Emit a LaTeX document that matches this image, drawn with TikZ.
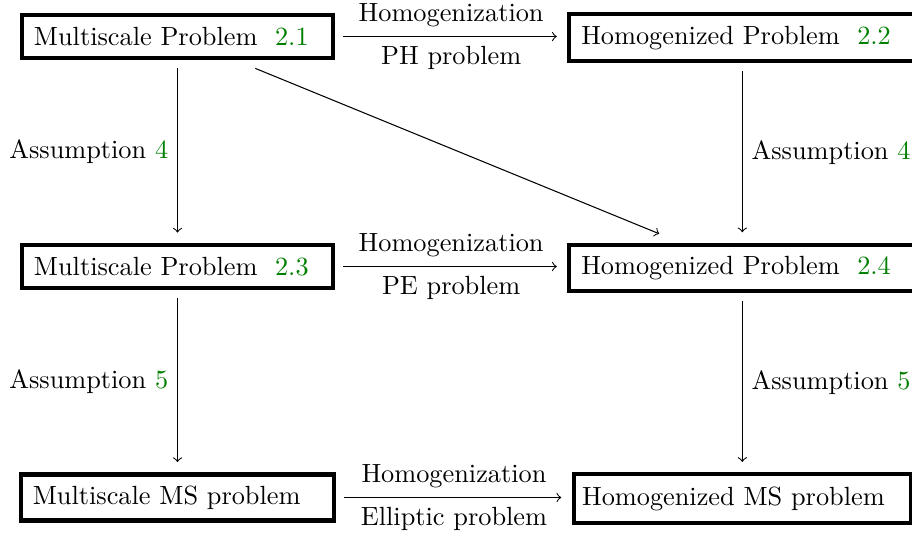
\documentclass[tikz,border=0pt]{standalone}
\definecolor{refgreen}{rgb}{0,0.5,0}
\newcommand{\rf}[1]{\textcolor{refgreen}{#1}}
\begin{document}
\begin{tikzpicture}[x=0.38pt,y=-0.38pt,
  box/.style={draw, line width=1.6pt, align=left, outer sep=3.8pt, inner xsep=4.6pt, inner ysep=0pt},
  arr/.style={->, shorten >=0.9pt}]
\path[use as bounding box, clip] (0,0) rectangle (912,533);
\node[box, text width=109.1pt, minimum height=16.6pt] (A) at (177.5,36.5) {Multiscale Problem~~\rf{2.1}};
\node[box, text width=122.4pt, minimum height=17.9pt] (B) at (742.3,37.8) {Homogenized Problem~~\rf{2.2}};
\node[box, text width=109.1pt, minimum height=16.4pt] (C) at (177.5,266.5) {Multiscale Problem~~\rf{2.3}};
\node[box, text width=122.4pt, minimum height=17.6pt] (D) at (742.3,267.8) {Homogenized Problem~~\rf{2.4}};
\node[box, text width=110pt, minimum height=17.5pt] (E) at (177.5,497.5) {Multiscale MS problem};
\node[box, inner xsep=3.2pt, text width=121.8pt, minimum height=18.4pt] (F) at (742.3,498.5) {Homogenized MS problem};
\draw[arr] (A.east) -- (A.east -| B.west) node[midway,above]{Homogenization} node[midway,below]{PH problem};
\draw[arr] (C.east) -- (C.east -| D.west) node[midway,above]{Homogenization} node[midway,below]{PE problem};
\draw[arr] (E.east) -- (E.east -| F.west) node[midway,above]{Homogenization} node[midway,below]{Elliptic problem};
\draw[arr] (A) -- (C) node[midway,left]{Assumption \rf{4}};
\draw[arr] (B) -- (D) node[midway,right]{Assumption \rf{4}};
\draw[arr] (C) -- (E) node[midway,left]{Assumption \rf{5}};
\draw[arr] (D) -- (F) node[midway,right]{Assumption \rf{5}};
\draw[arr] (A) -- (D);
\end{tikzpicture}
\end{document}
